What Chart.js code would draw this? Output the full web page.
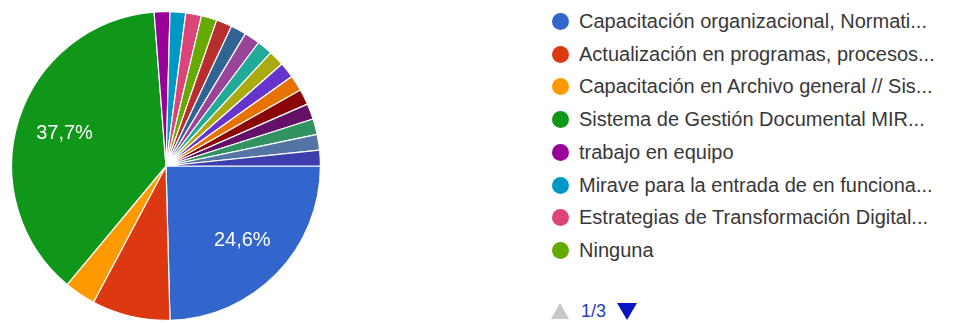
<!DOCTYPE html>
<html>
<head>
<meta charset="utf-8">
<script src="https://cdn.jsdelivr.net/npm/chart.js@4/dist/chart.umd.min.js"></script>
<style>
  body { margin: 0; background: #fff; width: 955px; height: 323px; overflow: hidden; font-family: "Liberation Sans", Arial, sans-serif; }
  #pieBox { position: absolute; left: 11px; top: 11px; width: 310px; height: 310px; }
  #legend { position: absolute; left: 550px; top: 0; }
  .row { position: absolute; left: 0; width: 405px; height: 22px; white-space: nowrap; }
  .dot { position: absolute; left: 2px; top: 3px; width: 17px; height: 17px; border-radius: 50%; }
  .txt { position: absolute; left: 29px; top: 0; font-size: 20px; line-height: 22px; color: #383838; }
  #pager { position: absolute; left: 550px; top: 300px; height: 22px; }
  .up { position: absolute; left: 1px; top: 3px; width: 0; height: 0; border-left: 9px solid transparent; border-right: 9px solid transparent; border-bottom: 16px solid #c8c8c8; }
  .down { position: absolute; left: 67px; top: 3px; width: 0; height: 0; border-left: 10px solid transparent; border-right: 10px solid transparent; border-top: 17px solid #0b16c4; }
  .page { position: absolute; left: 31px; top: 0; font-size: 18px; line-height: 22px; color: #2a3bb5; }
</style>
</head>
<body>
<div id="pieBox"><canvas id="pie"></canvas></div>
<div id="legend"></div>
<div id="pager">
  <span class="up"></span>
  <span class="page">1/3</span>
  <span class="down"></span>
</div>
<script>
// legend labels as shown (page 1 of 3), other answers are on the hidden pages
const labels = [
  "Capacitación organizacional, Normati...",
  "Actualización en programas, procesos...",
  "Capacitación en Archivo general // Sis...",
  "Sistema de Gestión Documental MIR...",
  "trabajo en equipo",
  "Mirave para la entrada de en funciona...",
  "Estrategias de Transformación Digital...",
  "Ninguna",
  "Respuesta 9", "Respuesta 10", "Respuesta 11", "Respuesta 12",
  "Respuesta 13", "Respuesta 14", "Respuesta 15", "Respuesta 16",
  "Respuesta 17", "Respuesta 18", "Respuesta 19", "Respuesta 20"
];
// number of responses (61 total)
const counts = [15, 5, 2, 23, 1, 1, 1, 1, 1, 1, 1, 1, 1, 1, 1, 1, 1, 1, 1, 1];
const colors = [
  "#3366cc", "#dc3912", "#ff9900", "#109618", "#990099", "#0099c6", "#dd4477", "#66aa00",
  "#b82e2e", "#316395", "#994499", "#22aa99", "#aaaa11", "#6633cc", "#e67300", "#8b0707",
  "#651067", "#329262", "#5574a6", "#3b3eac"
];
const legendShown = 8;

const total = counts.reduce((a, b) => a + b, 0);

// html legend, first page only
const legend = document.getElementById("legend");
for (let i = 0; i < legendShown; i++) {
  const row = document.createElement("div");
  row.className = "row";
  row.style.top = (10 + i * 32.7) + "px";
  row.innerHTML = '<span class="dot" style="background:' + colors[i] + '"></span><span class="txt">' + labels[i] + "</span>";
  legend.appendChild(row);
}

// percent labels inside the big slices
const pctLabels = {
  id: "pctLabels",
  afterDatasetsDraw(chart) {
    const ctx = chart.ctx;
    const meta = chart.getDatasetMeta(0);
    ctx.save();
    ctx.fillStyle = "#ffffff";
    ctx.font = "20px 'Liberation Sans', Arial, sans-serif";
    ctx.textAlign = "center";
    ctx.textBaseline = "middle";
    meta.data.forEach((arc, i) => {
      const pct = counts[i] / total * 100;
      if (pct < 20) return;
      const p = arc.getProps(["x", "y", "startAngle", "endAngle", "outerRadius"], true);
      const mid = (p.startAngle + p.endAngle) / 2;
      const r = p.outerRadius * 0.69;
      ctx.fillText(pct.toFixed(1).replace(".", ",") + "%", p.x + Math.cos(mid) * r, p.y + Math.sin(mid) * r);
    });
    ctx.restore();
  }
};

new Chart(document.getElementById("pie"), {
  type: "pie",
  data: {
    labels: labels,
    datasets: [{
      data: counts,
      backgroundColor: colors,
      borderColor: "#ffffff",
      borderWidth: 1.2
    }]
  },
  options: {
    responsive: true,
    maintainAspectRatio: false,
    animation: false,
    rotation: 90,
    layout: { padding: 0 },
    plugins: {
      legend: { display: false },
      tooltip: { enabled: false }
    }
  },
  plugins: [pctLabels]
});
</script>
</body>
</html>
